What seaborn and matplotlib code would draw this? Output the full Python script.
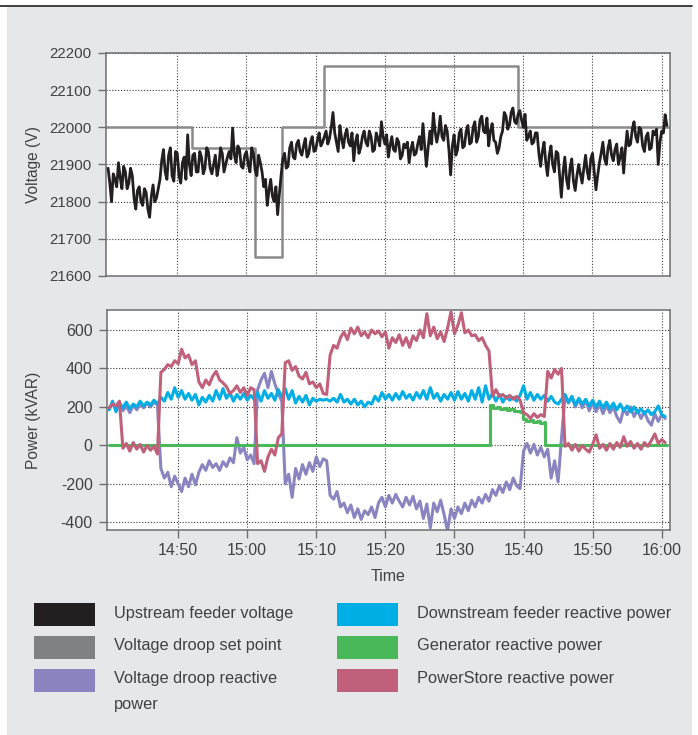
import matplotlib
matplotlib.use("Agg")
import numpy as np
import pandas as pd
import seaborn as sns
import matplotlib.pyplot as plt
from matplotlib.patches import Rectangle
from matplotlib.lines import Line2D

# ---------------------------------------------------------------- data
# Voltage sampled every 15 s, reactive power every 30 s, from 14:40
# (time is kept in minutes after 14:00)
SAMPLE_START = 40.0
VOLT_STEP = 0.25
POWER_STEP = 0.5

upstream_voltage = [
    21890, 21850, 21800, 21875, 21860, 21840, 21905, 21865, 21835, 21895,
    21880, 21835, 21850, 21890, 21870, 21810, 21780, 21830, 21840, 21800,
    21790, 21835, 21825, 21780, 21758, 21815, 21845, 21800, 21810, 21835,
    21860, 21910, 21940, 21880, 21860, 21925, 21945, 21870, 21855, 21935,
    21930, 21870, 21850, 21905, 21920, 21860, 21980, 21900, 21870, 21925,
    21930, 21880, 21880, 21935, 21920, 21875, 21890, 21945, 21935, 21890,
    21875, 21900, 21925, 21870, 21895, 21945, 21930, 21880, 21900, 21920,
    21935, 21915, 21998, 21925, 21905, 21950, 21940, 21895, 21890, 21925,
    21935, 21900, 21880, 21945, 21930, 21885, 21870, 21925, 21905, 21880,
    21840, 21860, 21790, 21830, 21860, 21815, 21800, 21840, 21765, 21820,
    21870, 21915, 21930, 21890, 21895, 21945, 21960, 21920, 21915, 21955,
    21965, 21935, 21925, 21950, 21970, 21920, 21930, 21960, 21975, 21935,
    21940, 21965, 21985, 21950, 21960, 21975, 21990, 21955, 21970, 22000,
    22040, 21985, 21960, 21935, 22005, 21970, 21945, 21980, 21995, 21960,
    21950, 21985, 21910, 21960, 21980, 21930, 21945, 21975, 21990, 21960,
    21950, 21990, 21975, 21935, 21940, 21985, 21970, 21950, 22015, 21975,
    21955, 21980, 21920, 21950, 21975, 21940, 21935, 21970, 21960, 21915,
    21925, 21955, 21945, 21960, 21905, 21940, 21960, 21925, 21930, 21955,
    21975, 21940, 22010, 21950, 21895, 21945, 21990, 21955, 22038, 21990,
    21960, 21985, 22030, 21975, 21965, 22005, 21990, 21940, 21872, 21950,
    21980, 21925, 21940, 21985, 21995, 21945, 21950, 21990, 22005, 21955,
    21960, 22000, 22015, 21960, 21975, 22020, 22030, 21990, 21985, 22025,
    21950, 21990, 22010, 21965, 21960, 21930, 21945, 21975, 21990, 22040,
    22030, 21995, 22005, 22040, 22052, 22015, 22010, 22035, 22045, 22020,
    22000, 22035, 21965, 21975, 21990, 21955, 21960, 21985, 21985, 21930,
    21895, 21935, 21960, 21905, 21870, 21925, 21950, 21900, 21880, 21935,
    21930, 21870, 21812, 21880, 21920, 21860, 21835, 21890, 21915, 21855,
    21830, 21870, 21900, 21875, 21850, 21890, 21925, 21880, 21860, 21915,
    21930, 21880, 21832, 21870, 21905, 21930, 21960, 21915, 21900, 21945,
    21965, 21925, 21910, 21940, 21955, 21900, 21920, 21945, 21877, 21940,
    21990, 21950, 21955, 21995, 22015, 21975, 21960, 22000, 21995, 21950,
    21935, 21975, 21985, 21940, 21945, 21990, 21980, 21995, 21900, 21960,
    21990, 21985, 22034, 22005,
]

droop_reactive = [
    190, 215, 195, 225, 180, 205, 170, 210, 185, 215,
    195, 220, 200, 225, 210, -120, -170, -140, -215, -160,
    -200, -240, -170, -215, -150, -205, -140, -100, -130, -80,
    -115, -95, -130, -85, -110, -65, -90, 40, -40, -10,
    -75, -50, -95, 290, 340, 375, 300, 385, 320, 270,
    230, -200, -150, -270, -120, -175, -100, -150, -90, -135,
    -60, -110, -70, -80, -260, -280, -240, -320, -300, -350,
    -310, -375, -330, -385, -340, -360, -320, -375, -300, -270,
    -320, -260, -300, -255, -290, -320, -270, -310, -265, -330,
    -290, -380, -305, -430, -300, -345, -285, -360, -445, -330,
    -380, -320, -355, -300, -340, -285, -320, -270, -300, -255,
    -290, -230, -260, -210, -245, -190, -230, -170, -210, -225,
    -30, 10, -40, 5, -50, -10, -60, -20, -170, -80,
    -190, 40, 255, 220, 250, 200, 240, 195, 235, 180,
    225, 175, 215, 165, 210, 170, 200, 150, 120, 190,
    160, 200, 150, 185, 140, 175, 130, 105, 165, 125,
    160, 140,
]

downstream_reactive = [
    185, 230, 175, 220, 195, 225, 190, 215, 200, 230,
    205, 225, 210, 235, 215, 250, 230, 275, 240, 300,
    250, 285, 240, 270, 235, 265, 210, 250, 225, 260,
    230, 285, 240, 295, 245, 275, 230, 265, 240, 270,
    235, 260, 240, 275, 230, 285, 245, 270, 235, 290,
    250, 295, 240, 285, 220, 255, 225, 260, 210, 245,
    230, 240, 235, 240, 230, 245, 225, 265, 225, 240,
    215, 240, 210, 230, 200, 225, 215, 255, 230, 275,
    240, 265, 235, 270, 240, 280, 245, 265, 235, 275,
    245, 285, 240, 300, 245, 270, 230, 265, 240, 275,
    235, 280, 240, 270, 230, 285, 240, 300, 225, 310,
    240, 270, 230, 265, 225, 255, 235, 250, 230, 260,
    310, 240, 275, 235, 265, 240, 260, 230, 255, 225,
    215, 240, 265, 225, 255, 210, 245, 215, 240, 205,
    235, 200, 230, 195, 225, 190, 220, 185, 215, 180,
    205, 175, 200, 170, 190, 165, 185, 160, 175, 205,
    160, 150,
]

powerstore_reactive = [
    195, 215, 205, 230, -15, 10, -30, 15, -20, 5,
    -35, 0, -25, -5, -45, 380, 395, 420, 410, 440,
    425, 500, 455, 470, 420, 440, 330, 300, 340, 315,
    360, 385, 340, 325, 305, 270, 285, 310, 275, 300,
    260, 300, 290, -95, -80, -135, -60, -20, -50, 40,
    60, 430, 440, 390, 410, 360, 345, 380, 320, 330,
    300, 320, 270, 265, 470, 520, 505, 560, 590, 550,
    610, 580, 615, 570, 590, 560, 600, 580, 595, 565,
    590, 505, 560, 535, 575, 520, 560, 510, 570, 545,
    600, 560, 685, 570, 615, 555, 590, 540, 610, 695,
    580, 625, 690, 585, 600, 570, 575, 545, 560, 520,
    490, 255, 290, 255, 265, 245, 260, 240, 255, 235,
    170, 160, 140, 165, 145, 160, 150, 385, 350, 395,
    370, 400, -5, 10, -25, 5, -30, 0, -20, -35,
    5, 55, -15, 5, -25, 10, -20, 15, -10, 45,
    -5, 20, -15, 10, -20, 15, -5, 25, 60, 10,
    30, 15,
]

# Step signals: value holds from each time until the next one
setpoint_minutes = [39.7, 52.1, 61.25, 65.2, 71.2, 99.3, 121.2]
setpoint_voltage = [22000, 21945, 21650, 22000, 22165, 22000, 22000]

generator_minutes = [40.0, 95.1, 95.6, 96.1, 96.6, 97.1, 97.6, 98.1, 98.6, 99.1,
                     99.5, 99.9, 100.4, 100.9, 101.4, 101.9, 102.4, 102.9, 103.15, 120.8]
generator_reactive = [0, 210, 196, 199, 191, 193, 186, 188, 181, 178,
                      172, 135, 128, 132, 122, 126, 118, 124, 0, 0]

time_tick_minutes = [50, 60, 70, 80, 90, 100, 110, 120]
time_tick_labels = ["14:50", "15:00", "15:10", "15:20", "15:30", "15:40", "15:50", "16:00"]
voltage_ticks = [21600, 21700, 21800, 21900, 22000, 22100, 22200]
power_ticks = [-400, -200, 0, 200, 400, 600]

legend_labels = ["Upstream feeder voltage", "Voltage droop set point",
                 "Voltage droop reactive", "Downstream feeder reactive power",
                 "Generator reactive power", "PowerStore reactive power"]

# ---------------------------------------------------------------- style
C_VOLT = "#231f20"
C_SET = "#8a8a8c"
C_SET_SWATCH = "#808184"
C_DROOP = "#8a85c1"
C_DOWN = "#00aee6"
C_GEN = "#48b858"
C_PSTORE = "#c0607a"
C_TEXT = "#414042"
C_SPINE = "#6d6e71"
C_PANEL = "#e6e7e8"

W, H = 698, 735

sns.set_theme(style="white")
plt.rcParams["font.family"] = ["Liberation Sans", "DejaVu Sans"]
plt.rcParams["axes.unicode_minus"] = False


def fx(px):
    return px / W


def fy(py):
    return 1 - py / H


fig = plt.figure(figsize=(W / 100, H / 100), dpi=100)
fig.patch.set_facecolor("white")

fig.add_artist(Rectangle((fx(7), 0), fx(692) - fx(7), fy(7), transform=fig.transFigure,
                         facecolor=C_PANEL, edgecolor="none", zorder=-10))
fig.add_artist(Line2D([0, fx(692)], [fy(5.5), fy(5.5)], transform=fig.transFigure,
                      color=C_VOLT, lw=1.2, zorder=-5))

ax1 = fig.add_axes([fx(106), fy(276), fx(670) - fx(106), fy(53) - fy(276)])
ax2 = fig.add_axes([fx(107), fy(530), fx(670) - fx(107), fy(310) - fy(530)])

volt_minutes = SAMPLE_START + VOLT_STEP * np.arange(len(upstream_voltage))
power_minutes = SAMPLE_START + POWER_STEP * np.arange(len(droop_reactive))
volt_df = pd.DataFrame({"minute": volt_minutes, "voltage": upstream_voltage})
set_df = pd.DataFrame({"minute": setpoint_minutes, "voltage": setpoint_voltage})
power_df = pd.DataFrame({
    "minute": power_minutes,
    "droop": droop_reactive,
    "downstream": downstream_reactive,
    "powerstore": powerstore_reactive,
})
gen_df = pd.DataFrame({"minute": generator_minutes, "generator": generator_reactive})

common = dict(estimator=None, errorbar=None, legend=False)

# Voltage panel
sns.lineplot(data=set_df, x="minute", y="voltage", ax=ax1, color=C_SET, lw=1.8,
             drawstyle="steps-post", zorder=2, **common)
sns.lineplot(data=volt_df, x="minute", y="voltage", ax=ax1, color=C_VOLT, lw=2.0,
             zorder=3, **common)

# Reactive power panel
lw_q = 2.2
sns.lineplot(data=power_df, x="minute", y="droop", ax=ax2, color=C_DROOP, lw=lw_q,
             zorder=2, **common)
sns.lineplot(data=power_df, x="minute", y="downstream", ax=ax2, color=C_DOWN, lw=lw_q,
             zorder=3, **common)
sns.lineplot(data=gen_df, x="minute", y="generator", ax=ax2, color=C_GEN, lw=lw_q,
             drawstyle="steps-post", zorder=4, **common)
sns.lineplot(data=power_df, x="minute", y="powerstore", ax=ax2, color=C_PSTORE, lw=lw_q,
             zorder=5, **common)

for ax in (ax1, ax2):
    ax.set_facecolor("white")
    ax.set_xlim(39.7, 121.2)
    ax.set_xticks(time_tick_minutes)
    ax.set_axisbelow(True)
    ax.grid(True, linestyle=(0, (1, 1.6)), linewidth=0.8, color="#3c3c3e")
    for sp in ax.spines.values():
        sp.set_visible(True)
        sp.set_color(C_SPINE)
        sp.set_linewidth(1.1)
    ax.tick_params(axis="y", direction="out", length=5.8, width=1.0, color=C_SPINE,
                   labelcolor=C_TEXT, pad=4.5, left=True)

ax1.set_ylim(21600, 22200)
ax1.set_yticks(voltage_ticks)
ax1.set_yticklabels([str(v) for v in voltage_ticks], fontsize=10.8)
ax1.tick_params(axis="x", length=0, labelbottom=False)
ax1.set_xlabel("")
ax1.set_ylabel("Voltage (V)", fontsize=11.2, color=C_TEXT)
ax1.yaxis.set_label_coords(-0.115, 0.5)

ax2.set_ylim(-440, 704)
ax2.set_yticks(power_ticks)
ax2.set_yticklabels([str(v) for v in power_ticks], fontsize=11.5)
ax2.set_xticklabels(time_tick_labels, fontsize=11.5)
ax2.tick_params(axis="x", direction="out", length=5.8, width=1.0, color=C_SPINE,
                labelcolor=C_TEXT, pad=3.5, bottom=True)
ax2.set_xlabel("Time", fontsize=11.5, color=C_TEXT)
ax2.xaxis.set_label_coords(0.5, -0.176)
ax2.set_ylabel("Power (kVAR)", fontsize=11.2, color=C_TEXT)
ax2.yaxis.set_label_coords(-0.117, 0.5)

# Legend: two columns of colour swatches with labels
swatch_colors = [C_VOLT, C_SET_SWATCH, C_DROOP, C_DOWN, C_GEN, C_PSTORE]
row_tops = [603, 636, 669]
row_baselines = [617.7, 650.3, 683.3]
col_swatch_x = [34, 337]
col_text_x = [114, 417]
for i, (label, color) in enumerate(zip(legend_labels, swatch_colors)):
    col, row = divmod(i, 3)
    x0 = col_swatch_x[col]
    fig.add_artist(Rectangle((fx(x0), fy(row_tops[row] + 23)), fx(61), 23 / H,
                             transform=fig.transFigure, facecolor=color,
                             edgecolor="none"))
    fig.text(fx(col_text_x[col]), fy(row_baselines[row]), label, ha="left",
             va="baseline", fontsize=11.8, color=C_TEXT)
fig.text(fx(col_text_x[0]), fy(709.3), "power", ha="left", va="baseline",
         fontsize=11.8, color=C_TEXT)

fig.savefig("out.png", dpi=100, facecolor=fig.get_facecolor())
